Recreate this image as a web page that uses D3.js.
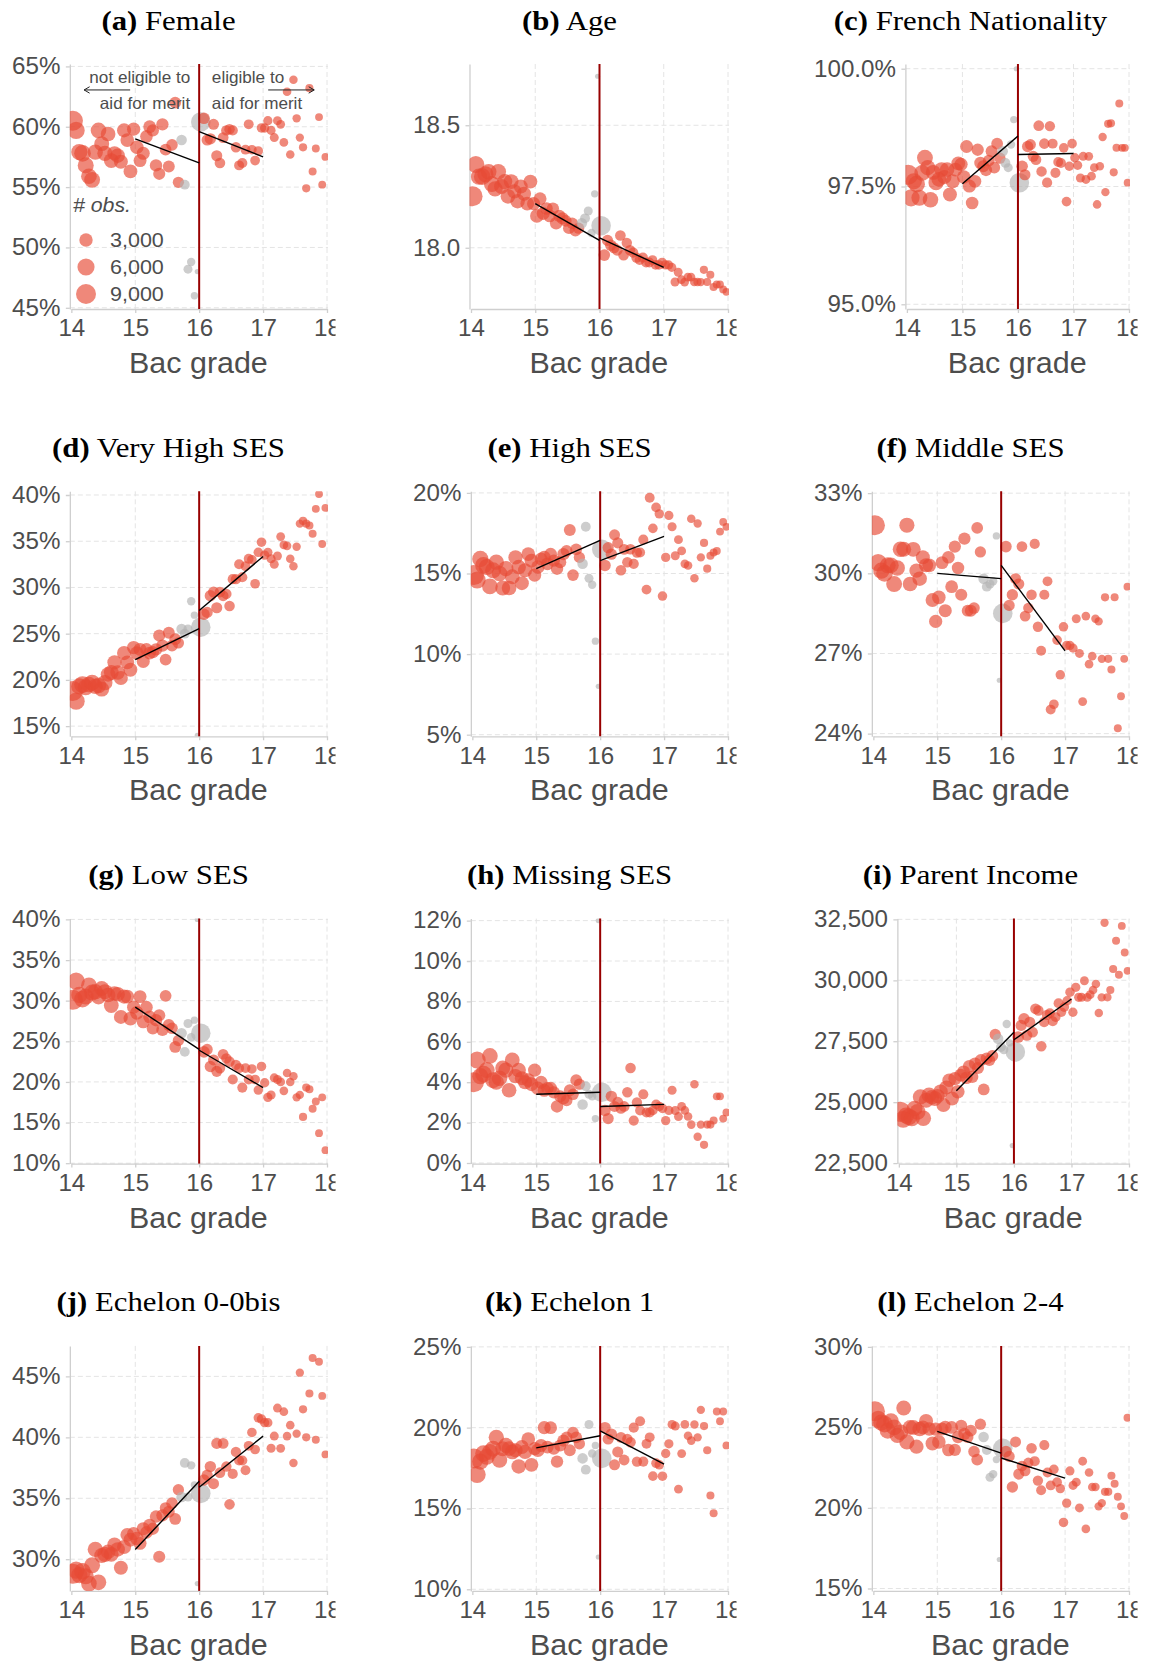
<!DOCTYPE html>
<html>
<head>
<meta charset="utf-8">
<script src="https://cdn.jsdelivr.net/npm/d3@7"></script>
<style>
  html, body { margin: 0; padding: 0; background: #fff; }
  svg { display: block; }
</style>
</head>
<body>
<svg id="chart" width="1150" height="1663"></svg>
<script>
// Bac grade bins (bin centres) and number of students in each bin
const grade = [
  14.025, 14.075, 14.125, 14.175, 14.225, 14.275, 14.325, 14.375, 14.425, 14.475,
  14.525, 14.575, 14.625, 14.675, 14.725, 14.775, 14.825, 14.875, 14.925, 14.975,
  15.025, 15.075, 15.125, 15.175, 15.225, 15.275, 15.325, 15.375, 15.425, 15.475,
  15.525, 15.575, 15.625, 15.675,
  15.725, 15.775, 15.825, 15.875, 15.925, 15.970, 16.025,
  16.075, 16.125, 16.175, 16.225, 16.275, 16.325, 16.375, 16.425, 16.475, 16.525,
  16.575, 16.625, 16.675, 16.725, 16.775, 16.825, 16.875, 16.925, 16.975, 17.025,
  17.075, 17.125, 17.175, 17.225, 17.275, 17.325, 17.375, 17.425, 17.475, 17.525,
  17.575, 17.625, 17.675, 17.725, 17.775, 17.825, 17.875, 17.925, 17.975
];
const obs = [
  9000, 6000, 5200, 5600, 5000, 4700, 4900, 4400, 4600, 4100,
  4300, 3900, 4000, 3600, 3800, 3400, 3500, 3200, 3300, 2900,
  3100, 2700, 2800, 2500, 2600, 2300, 2400, 2200, 2300, 2000,
  2100, 1900, 2000, 1750,
  1400, 1100, 800, 600, 320, 20, 8500,
  1900, 1700, 1800, 1600, 1650, 1450, 1500, 1350, 1400, 1250,
  1300, 1150, 1200, 1100, 1120, 1000, 1050, 950, 980, 900,
  860, 820, 780, 750, 720, 690, 660, 640, 610, 580,
  560, 540, 520, 500, 480, 460, 440, 430, 420
];
// bins left out of the local fits around the threshold
const donutLow = 15.7, donutHigh = 16.05;

// Outcome means by bin
const female = [
  60.5, 59.7, 57.9, 57.8, 56.8, 55.9, 55.6, 57.9, 59.7, 58.6, 57.8, 59.4, 57.2, 57.8, 57.6, 57.1, 59.7,
  58.9, 56.3, 59.8, 58.3, 57.2, 57.8, 59.2, 60.0, 59.7, 56.8, 56.1, 60.2, 58.1, 56.7, 58.5, 62.0, 55.4,
  58.9, 55.2, 48.2, 48.8, 46.0, 48.0, 60.4,
  60.7, 58.9, 59.0, 60.2, 57.6, 57.0, 59.1, 59.7, 59.8, 59.7, 58.3, 56.8, 57.0, 58.1, 60.2, 58.1, 57.2,
  58.0, 59.9, 59.9, 60.5, 59.7, 59.1, 60.5, 60.2, 58.7, 62.9, 57.7, 63.9, 60.7, 59.1, 58.3, 54.9, 63.2,
  56.3, 58.2, 60.8, 55.2, 57.5
];
const age = [
  18.21, 18.34, 18.29, 18.29, 18.30, 18.31, 18.26, 18.24, 18.31, 18.25, 18.27, 18.21, 18.27, 18.23,
  18.19, 18.25, 18.22, 18.18, 18.27, 18.18, 18.13, 18.20, 18.14, 18.16, 18.13, 18.16, 18.10, 18.13,
  18.12, 18.11, 18.08, 18.10, 18.07, 18.08,
  18.10, 18.12, 18.15, 18.06, 18.22, 18.70, 18.09,
  17.97, 18.03, 18.01, 18.00, 17.99, 18.05, 17.97, 18.02, 17.99, 17.98, 17.96, 17.95, 17.96, 17.94,
  17.94, 17.95, 17.93, 17.93, 17.94, 17.93, 17.93, 17.92, 17.86, 17.90, 17.87, 17.86, 17.88, 17.88,
  17.86, 17.86, 17.86, 17.91, 17.86, 17.89, 17.84, 17.85, 17.85, 17.83, 17.82
];
const french = [
  97.75, 97.26, 97.61, 97.55, 97.26, 97.79, 98.11, 97.90, 97.22, 97.80, 97.58, 97.65, 97.86, 97.70,
  97.86, 97.33, 97.61, 97.86, 97.99, 97.97, 97.70, 98.35, 97.51, 97.15, 97.61, 98.28, 98.00, 97.93,
  97.85, 98.05, 98.25, 97.90, 98.41, 98.10,
  98.25, 98.00, 97.90, 98.39, 98.92, 100.0, 97.58,
  97.93, 97.75, 98.35, 98.39, 98.14, 98.07, 98.79, 97.82, 98.41, 97.58, 98.78, 98.41, 97.79, 98.02,
  98.00, 98.32, 97.18, 97.93, 98.41, 98.11, 97.95, 97.68, 98.14, 97.65, 98.14, 97.72, 97.90, 97.12,
  97.93, 98.55, 97.38, 98.83, 98.84, 97.80, 98.32, 99.26, 98.32, 98.32, 97.58
];
const veryHighSes = [
  18.8, 17.7, 19.3, 19.5, 19.2, 19.5, 19.7, 19.3, 19.4, 19.0, 19.7, 20.6, 20.8, 21.9, 20.8, 20.2, 22.9,
  21.9, 21.1, 23.5, 22.9, 23.3, 22.0, 23.3, 22.9, 23.0, 23.3, 24.8, 23.7, 22.2, 25.1, 23.7, 24.4, 24.0,
  25.5, 25.0, 25.5, 28.5, 27.0, 14.0, 25.7,
  27.1, 27.3, 29.1, 29.5, 27.8, 29.5, 29.1, 29.3, 28.0, 30.9, 30.9, 32.5, 31.1, 32.3, 33.1, 33.0, 30.4,
  33.8, 34.9, 33.5, 33.8, 33.1, 32.5, 33.4, 35.5, 34.6, 34.5, 33.1, 32.3, 34.4, 36.9, 37.2, 36.9, 36.7,
  35.8, 38.5, 40.1, 34.7, 38.6
];
const highSes = [
  14.9, 14.6, 15.9, 15.5, 15.4, 14.2, 15.2, 15.7, 15.0, 14.1, 15.3, 14.1, 14.8, 16.0, 15.4, 14.4, 15.2,
  16.2, 15.8, 14.9, 15.4, 15.9, 16.0, 15.6, 16.2, 15.8, 15.3, 15.7, 16.2, 16.4, 17.7, 14.9, 16.5, 16.0,
  15.6, 17.9, 14.7, 14.3, 10.8, 8.0, 16.5,
  15.5, 16.6, 16.2, 17.4, 16.9, 15.2, 16.5, 15.7, 16.5, 15.6, 16.3, 16.3, 17.1, 14.0, 19.7, 17.8, 19.1,
  18.7, 13.6, 16.0, 18.6, 17.9, 16.1, 17.1, 16.4, 15.6, 15.5, 18.4, 14.7, 18.1, 16.0, 16.9, 15.3, 16.1,
  16.3, 16.4, 17.6, 18.2, 17.9
];
const middleSes = [
  31.8, 30.4, 30.1, 30.0, 30.3, 30.3, 29.6, 30.2, 30.9, 30.9, 31.8, 29.6, 30.9, 30.1, 29.8, 30.6, 30.3,
  30.3, 29.0, 28.2, 29.1, 30.4, 28.6, 30.6, 29.5, 31.0, 30.2, 29.2, 31.3, 28.6, 28.6, 28.7, 31.7, 30.8,
  29.8, 29.5, 29.6, 29.7, 31.4, 26.0, 28.5,
  31.0, 28.8, 29.2, 29.8, 29.6, 31.0, 28.4, 28.7, 29.2, 31.1, 28.0, 27.1, 29.2, 29.7, 24.9, 25.1, 27.5,
  26.2, 28.0, 27.3, 27.3, 27.2, 28.3, 27.0, 25.2, 28.4, 26.6, 26.9, 28.3, 28.2, 26.8, 29.1, 26.8, 26.4,
  29.1, 24.2, 25.4, 26.8, 29.5
];
const lowSes = [
  30.1, 32.4, 30.7, 30.2, 30.5, 31.9, 31.0, 31.1, 30.5, 31.5, 31.1, 30.7, 29.4, 30.9, 30.8, 28.0, 30.5,
  30.5, 27.8, 29.2, 28.5, 30.5, 27.4, 29.2, 28.0, 26.6, 27.6, 28.2, 26.4, 30.6, 27.0, 26.6, 24.3, 25.1,
  26.0, 23.7, 27.2, 25.5, 27.6, 40.0, 26.0,
  23.7, 24.0, 21.9, 22.7, 21.3, 21.7, 23.4, 22.9, 22.5, 20.3, 22.1, 21.7, 19.3, 21.7, 20.3, 21.6, 20.3,
  19.0, 21.9, 19.9, 18.1, 18.4, 20.5, 20.3, 20.0, 18.9, 21.1, 20.0, 20.7, 18.1, 18.4, 15.7, 19.3, 19.1,
  16.7, 17.6, 13.7, 18.1, 11.6
];
const missingSes = [
  4.0, 5.1, 4.3, 4.4, 4.6, 5.3, 4.1, 4.0, 4.2, 4.7, 4.6, 3.6, 5.1, 4.3, 4.6, 4.2, 4.0,
  4.1, 3.9, 4.6, 3.7, 4.0, 3.6, 3.7, 3.7, 3.5, 2.8, 3.3, 3.2, 3.1, 3.6, 3.4, 4.1, 3.9,
  2.9, 3.8, 3.4, 3.3, 2.2, 12.0, 3.5,
  2.6, 2.2, 3.3, 2.8, 3.0, 2.7, 2.8, 3.5, 4.7, 2.1, 3.0, 2.6, 3.4, 2.5, 2.5, 2.6, 2.9,
  2.8, 2.7, 2.1, 2.6, 3.6, 2.6, 2.3, 2.8, 2.6, 2.3, 1.9, 3.9, 1.3, 1.9, 0.9, 1.9, 1.9,
  2.1, 3.3, 3.3, 2.2, 2.5
];
const parentIncome = [
  24610, 24300, 24450, 24400, 24340, 24740, 24600, 25220, 24340, 25080, 25290, 25200, 25150, 25250,
  25430, 24880, 25600, 25900, 25150, 25970, 25430, 26110, 26240, 26000, 26470, 26040, 26580, 26400,
  26720, 25520, 26790, 26720, 26900, 27780,
  27600, 27260, 27150, 28210, 27430, 23220, 27060,
  27670, 28150, 28420, 27740, 28280, 27870, 28830, 28760, 27290, 28280, 28580, 28650, 28320, 28490,
  29060, 28690, 28900, 29160, 29510, 28690, 29710, 29300, 29300, 29980, 29300, 29410, 29600, 29850,
  28660, 29300, 32360, 29300, 29600, 30460, 31620, 30230, 32230, 31140, 30390
];
const echelon0 = [
  28.8, 29.1, 28.7, 29.0, 28.6, 28.0, 29.5, 30.8, 28.1, 30.3, 30.4, 30.6, 30.4, 31.2, 30.8, 29.3, 31.0,
  32.0, 31.6, 32.1, 31.7, 31.3, 32.5, 32.2, 32.8, 32.5, 33.5, 30.2, 33.6, 34.2, 33.9, 34.6, 33.3, 35.7,
  35.1, 37.9, 35.1, 37.7, 36.1, 28.0, 35.4,
  36.5, 36.9, 37.6, 36.2, 39.5, 37.1, 39.5, 37.6, 34.5, 37.0, 38.8, 38.1, 38.1, 37.3, 39.3, 40.4, 39.0,
  41.6, 41.5, 41.2, 41.2, 39.1, 40.1, 42.4, 39.1, 42.1, 40.1, 41.0, 37.9, 40.3, 45.3, 42.3, 40.0, 43.6,
  46.5, 39.8, 46.2, 43.4, 38.6
];
const echelon1 = [
  18.1, 17.1, 17.9, 18.4, 18.2, 18.5, 18.7, 19.4, 18.0, 18.7, 18.9, 18.7, 18.5, 18.6, 17.6, 18.8, 18.5,
  19.3, 17.7, 18.7, 18.6, 18.9, 20.0, 18.8, 20.0, 18.7, 17.9, 18.9, 19.2, 19.4, 18.6, 19.7, 19.4, 19.0,
  18.1, 17.4, 20.2, 18.4, 18.9, 12.0, 18.1,
  20.0, 19.3, 19.6, 17.7, 18.5, 19.4, 18.0, 19.3, 19.1, 20.0, 17.9, 20.4, 17.9, 19.0, 19.4, 17.0, 17.8,
  17.7, 17.0, 18.4, 19.0, 20.2, 20.1, 16.2, 18.4, 20.2, 19.5, 19.2, 20.2, 19.4, 21.1, 20.1, 18.6, 15.8,
  14.7, 21.0, 20.4, 21.0, 18.9
];
const echelon24 = [
  26.0, 25.5, 25.3, 25.2, 24.8, 25.4, 25.0, 24.5, 24.7, 26.2, 24.1, 25.0, 25.0, 23.8, 24.9, 25.0, 25.4,
  24.9, 24.0, 24.9, 24.1, 24.9, 25.0, 23.6, 25.0, 23.6, 24.4, 25.1, 24.6, 24.4, 24.8, 23.5, 23.0, 25.2,
  24.4, 23.6, 21.9, 22.1, 23.0, 16.8, 23.7,
  23.5, 23.2, 21.3, 24.1, 22.1, 22.6, 22.3, 22.8, 23.7, 22.9, 21.7, 21.1, 23.9, 22.2, 21.4, 22.4, 21.6,
  21.2, 19.1, 20.3, 22.3, 21.4, 21.6, 20.0, 22.9, 18.7, 22.2, 21.3, 21.3, 20.1, 20.3, 21.0, 21.0, 22.0,
  21.5, 20.7, 20.1, 19.5, 25.6
];

// Local linear fits: value at 15, at 16 (from below), at 16 (from above), at 17
const fitGrade = [15, 16, 16, 17];
const femaleFit = [59.0, 57.0, 59.6, 57.5];
const ageFit = [18.18, 18.03, 18.04, 17.92];
const frenchFit = [97.56, 98.57, 98.18, 98.20];
const veryHighSesFit = [22.2, 25.55, 27.5, 33.35];
const highSesFit = [15.3, 17.05, 15.8, 17.3];
const middleSesFit = [30.0, 29.8, 30.3, 27.1];
const lowSesFit = [29.2, 24.0, 23.9, 19.3];
const missingSesFit = [3.4, 3.5, 2.8, 2.9];
const parentIncomeFit = [25470, 27870, 27560, 29230];
const echelon0Fit = [30.8, 36.4, 35.9, 40.1];
const echelon1Fit = [18.75, 19.5, 19.8, 17.75];
const echelon24Fit = [24.75, 23.4, 23.1, 21.85];

// Tick values
const gradeTicks = [14, 15, 16, 17, 18];
const femaleTicks = [45, 50, 55, 60, 65];
const ageTicks = [18.0, 18.5];
const frenchTicks = [95, 97.5, 100];
const veryHighSesTicks = [15, 20, 25, 30, 35, 40];
const highSesTicks = [5, 10, 15, 20];
const middleSesTicks = [24, 27, 30, 33];
const lowSesTicks = [10, 15, 20, 25, 30, 35, 40];
const missingSesTicks = [0, 2, 4, 6, 8, 10, 12];
const parentIncomeTicks = [22500, 25000, 27500, 30000, 32500];
const echelon0Ticks = [30, 35, 40, 45];
const echelon1Ticks = [10, 15, 20, 25];
const echelon24Ticks = [15, 20, 25, 30];

const legendObs = [3000, 6000, 9000];
const noteBelow = ["not eligible to", "aid for merit"];
const noteAbove = ["eligible to", "aid for merit"];

const pct = d => d + "%";
const pct1 = d => d3.format(".1f")(d) + "%";
const dec1 = d3.format(".1f");
const thousands = d3.format(",");

const panels = [
  { tag: "(a)", name: "Female", values: female, fit: femaleFit, ticks: femaleTicks, domain: [44.9, 65.2], fmt: pct, legend: true },
  { tag: "(b)", name: "Age", values: age, fit: ageFit, ticks: ageTicks, domain: [17.75, 18.75], fmt: dec1 },
  { tag: "(c)", name: "French Nationality", values: french, fit: frenchFit, ticks: frenchTicks, domain: [94.9, 100.1], fmt: pct1 },
  { tag: "(d)", name: "Very High SES", values: veryHighSes, fit: veryHighSesFit, ticks: veryHighSesTicks, domain: [13.9, 40.4], fmt: pct },
  { tag: "(e)", name: "High SES", values: highSes, fit: highSesFit, ticks: highSesTicks, domain: [4.9, 20.1], fmt: pct },
  { tag: "(f)", name: "Middle SES", values: middleSes, fit: middleSesFit, ticks: middleSesTicks, domain: [23.9, 33.07], fmt: pct },
  { tag: "(g)", name: "Low SES", values: lowSes, fit: lowSesFit, ticks: lowSesTicks, domain: [9.95, 40.1], fmt: pct },
  { tag: "(h)", name: "Missing SES", values: missingSes, fit: missingSesFit, ticks: missingSesTicks, domain: [-0.03, 12.1], fmt: pct },
  { tag: "(i)", name: "Parent Income", values: parentIncome, fit: parentIncomeFit, ticks: parentIncomeTicks, domain: [22480, 32530], fmt: thousands },
  { tag: "(j)", name: "Echelon 0-0bis", values: echelon0, fit: echelon0Fit, ticks: echelon0Ticks, domain: [27.4, 47.5], fmt: pct },
  { tag: "(k)", name: "Echelon 1", values: echelon1, fit: echelon1Fit, ticks: echelon1Ticks, domain: [9.9, 25.06], fmt: pct },
  { tag: "(l)", name: "Echelon 2-4", values: echelon24, fit: echelon24Fit, ticks: echelon24Ticks, domain: [14.85, 30.06], fmt: pct }
];

// ---- styling / layout ----
const SX = 1.05;                       // slight horizontal widening of the lettering
const TICK_SIZE = 23;
const SANS = "'Liberation Sans', Arial, Helvetica, sans-serif";
const SERIF = "'Liberation Serif', 'Times New Roman', serif";
const INK = "#4d4d4d";
const AXIS = "#cfcfcf";
const GRID = "#e4e4e4";
const RED = "#E64B35";
const GREY = "#b3b3b3";
const colX = [0, 401, 802];
const rowY = [0, 427.3, 854.6, 1281.9];

const radius = d3.scaleSqrt().domain([0, 9000]).range([2.2, 10]);
const isDonut = g => g > donutLow && g < donutHigh;

const svg = d3.select("#chart");
svg.append("rect").attr("width", 1150).attr("height", 1663).attr("fill", "#fff");
const defs = svg.append("defs");

function wideText(parent, x, y, str, size, anchor, opts = {}) {
  return parent.append("text")
    .attr("transform", `translate(${x},${y}) scale(${opts.sx || SX},1)`)
    .attr("text-anchor", anchor)
    .style("font-family", opts.family || SANS)
    .style("font-size", size + "px")
    .style("font-style", opts.italic ? "italic" : null)
    .attr("fill", opts.fill || INK)
    .text(str);
}

function styleAxis(sel) {
  sel.attr("font-family", SANS).attr("font-size", TICK_SIZE);
  sel.select(".domain").attr("stroke", AXIS).attr("stroke-width", 1.3);
  sel.selectAll(".tick line").attr("stroke", AXIS).attr("stroke-width", 1.3);
  sel.selectAll(".tick text").attr("fill", INK).attr("transform", `scale(${SX},1)`);
}

panels.forEach((p, i) => {
  const ox = colX[i % 3], oy = rowY[Math.floor(i / 3)];
  const top = oy + 64, bottom = oy + 309, right = ox + 327;

  defs.append("clipPath").attr("id", "panel-" + i)
    .append("rect").attr("x", ox - 4).attr("y", oy).attr("width", 339.5).attr("height", 427);
  const g = svg.append("g").attr("clip-path", `url(#panel-${i})`);

  const y = d3.scaleLinear().domain(p.domain).range([bottom, top]);

  // y axis first, so the label width sets the plot's left edge
  const yAxisG = g.append("g");
  yAxisG.call(d3.axisLeft(y).tickValues(p.ticks).tickFormat(p.fmt)
    .tickSize(4).tickSizeOuter(0).tickPadding(5));
  styleAxis(yAxisG);
  const maxW = d3.max(yAxisG.selectAll(".tick text").nodes(), n => n.getComputedTextLength()) * SX;
  const left = ox + 12 + maxW + 9.5;

  const x = d3.scaleLinear().domain([14, 18]).range([left + 1.5, right]);

  // dashed grid
  const grid = g.insert("g", ":first-child")
    .attr("stroke", GRID).attr("stroke-width", 1).attr("stroke-dasharray", "5,3");
  p.ticks.forEach(t => grid.append("line")
    .attr("x1", left).attr("x2", right + 1).attr("y1", y(t)).attr("y2", y(t)));
  gradeTicks.slice(1).forEach(t => grid.append("line")
    .attr("x1", x(t)).attr("x2", x(t)).attr("y1", top).attr("y2", bottom));

  yAxisG.attr("transform", `translate(${left},0)`);

  const xAxisG = g.append("g").attr("transform", `translate(0,${bottom})`);
  xAxisG.call(d3.axisBottom(x).tickValues(gradeTicks).tickFormat(d3.format("d"))
    .tickSize(4).tickSizeOuter(0).tickPadding(7));
  styleAxis(xAxisG);

  // points
  defs.append("clipPath").attr("id", "plot-" + i)
    .append("rect").attr("x", left).attr("y", top).attr("width", right + 1 - left).attr("height", bottom - top);
  const rows = grade.map((gr, k) => ({ gr, n: obs[k], v: p.values[k] })).filter(d => d.v != null);
  g.append("g").attr("clip-path", `url(#plot-${i})`)
    .selectAll("circle").data(rows).join("circle")
    .attr("cx", d => x(d.gr))
    .attr("cy", d => y(d.v))
    .attr("r", d => radius(d.n))
    .attr("fill", d => isDonut(d.gr) ? GREY : RED)
    .attr("fill-opacity", 0.66);

  // threshold for merit aid
  g.append("line")
    .attr("x1", x(16)).attr("x2", x(16)).attr("y1", top).attr("y2", bottom)
    .attr("stroke", "#980000").attr("stroke-width", 2);

  // local fits on each side
  const line = d3.line().x(d => x(d[0])).y(d => y(d[1]));
  [[0, 1], [2, 3]].forEach(([a, b]) => {
    g.append("path")
      .attr("d", line([[fitGrade[a], p.fit[a]], [fitGrade[b], p.fit[b]]]))
      .attr("fill", "none").attr("stroke", "#000").attr("stroke-width", 1.4);
  });

  // titles
  const title = g.append("text")
    .attr("transform", `translate(${ox + 168.5},${oy + 29.5}) scale(1.14,1)`)
    .attr("text-anchor", "middle")
    .style("font-family", SERIF).style("font-size", "27px")
    .attr("fill", "#000");
  title.append("tspan").attr("font-weight", "bold").text(p.tag);
  title.append("tspan").text(" " + p.name);

  wideText(g, (left + right) / 2, oy + 373, "Bac grade", 29, "middle");

  if (p.legend) {
    // eligibility notes around the threshold
    [63.6, 61.5].forEach((v, k) => {
      wideText(g, x(16) - 9, y(v), noteBelow[k], 16.3, "end");
      wideText(g, x(16) + 12.7, y(v), noteAbove[k], 16.3, "start");
    });
    const ay = y(63.05);
    const arrow = (from, to) => {
      const dir = Math.sign(to - from);
      const xt = x(to);
      g.append("path")
        .attr("d", `M${x(from)},${ay}H${xt}M${xt - dir * 5.5},${ay - 3.2}L${xt},${ay}L${xt - dir * 5.5},${ay + 3.2}`)
        .attr("fill", "none").attr("stroke", "#222").attr("stroke-width", 1);
    };
    arrow(14.92, 14.2);
    arrow(17.08, 17.8);

    // size legend
    wideText(g, ox + 73, oy + 212, "# obs.", 20.3, "start", { italic: true });
    legendObs.forEach((n, k) => {
      const cy = oy + 240 + k * 27;
      g.append("circle").attr("cx", ox + 86).attr("cy", cy).attr("r", radius(n))
        .attr("fill", RED).attr("fill-opacity", 0.66);
      wideText(g, ox + 110, cy + 7.3, thousands(n), 20.5, "start");
    });
  }
});
</script>
</body>
</html>
